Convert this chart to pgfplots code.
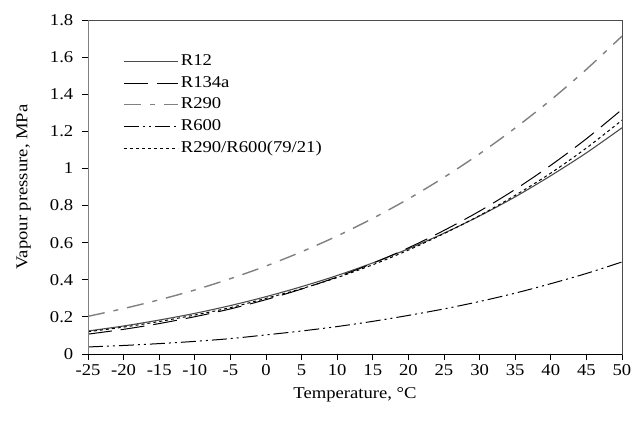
\documentclass[border=0pt]{standalone}
\usepackage{pgfplots}
\pgfplotsset{compat=1.18}
\usepackage{fontspec}
\setmainfont[FakeStretch=1.13]{Liberation Serif}
\begin{document}
\fontsize{16.5}{19}\selectfont
\begin{tikzpicture}[x=1pt,y=1pt]
\path[use as bounding box] (0,0) rectangle (633,421);
\begin{axis}[
  at={(88pt,67pt)}, anchor=south west,
  scale only axis, width=534pt, height=334pt,
  xmin=-25, xmax=50, ymin=0, ymax=1.8,
  xtick={-25,-20,...,50},
  ytick={0,0.2,...,1.8},
  /pgf/number format/assume math mode=true,
  tick align=outside, major tick length=6pt,
  xtick pos=bottom, ytick pos=left,
  tick style={black, line width=0.8pt},
  axis line style={draw=gray!60!black, line width=0.8pt},
  ticklabel style={font=\fontsize{16.5}{19}\selectfont},
  xticklabel style={yshift=1pt},
  yticklabel style={xshift=-3pt},
  xlabel={Temperature, °C},
  ylabel={Vapour pressure, MPa},
  label style={font=\fontsize{16.5}{19}\selectfont},
  xlabel style={yshift=0pt},
  ylabel style={yshift=8pt},
  legend style={draw=none, fill=none, at={(0.066,0.90)}, anchor=north west,
    font=\fontsize{16.5}{19}\selectfont, row sep=6.3pt, inner sep=0pt,
    nodes={inner xsep=2pt, inner ysep=1pt}},
  legend cell align=left,
  legend image code/.code={\draw[#1] (0pt,0pt) -- (54pt,0pt);},
]
\addplot[black!70, line width=1.1pt, smooth] coordinates {
(-25,0.124) (-20,0.151) (-15,0.183) (-10,0.219) (-5,0.261) (0,0.309) (5,0.363) (10,0.423)
(15,0.491) (20,0.567) (25,0.651) (30,0.744) (35,0.847) (40,0.961) (45,1.084) (50,1.219)};
\addlegendentry{R12}
\addplot[black, line width=1pt, smooth, dash pattern=on 24pt off 9pt] coordinates {
(-25,0.107) (-20,0.133) (-15,0.164) (-10,0.201) (-5,0.243) (0,0.293) (5,0.350) (10,0.415)
(15,0.489) (20,0.572) (25,0.666) (30,0.770) (35,0.887) (40,1.017) (45,1.160) (50,1.318)};
\addlegendentry{R134a}
\addplot[gray, line width=1.4pt, smooth, dash pattern=on 17pt off 9pt on 5pt off 9pt] coordinates {
(-25,0.203) (-20,0.245) (-15,0.292) (-10,0.345) (-5,0.406) (0,0.474) (5,0.551) (10,0.636)
(15,0.731) (20,0.836) (25,0.952) (30,1.079) (35,1.218) (40,1.369) (45,1.534) (50,1.713)};
\addlegendentry{R290}
\addplot[black, line width=1pt, smooth, dash pattern=on 15pt off 4pt on 2pt off 4pt on 2pt off 4pt] coordinates {
(-25,0.038) (-20,0.046) (-15,0.056) (-10,0.068) (-5,0.083) (0,0.103) (5,0.124) (10,0.148)
(15,0.176) (20,0.208) (25,0.243) (30,0.283) (35,0.328) (40,0.379) (45,0.434) (50,0.496)};
\addlegendentry{R600}
\addplot[black, line width=1pt, smooth, dash pattern=on 3pt off 3pt] coordinates {
(-25,0.120) (-20,0.145) (-15,0.175) (-10,0.210) (-5,0.250) (0,0.300) (5,0.352) (10,0.412)
(15,0.481) (20,0.560) (25,0.649) (30,0.746) (35,0.855) (40,0.975) (45,1.110) (50,1.260)};
\addlegendentry{R290/R600(79/21)}
\draw[gray, line width=2pt] (rel axis cs:0,0) -- (rel axis cs:0,1);
\draw[black, line width=1pt] (rel axis cs:0,0) -- (rel axis cs:1,0);
\end{axis}
\end{tikzpicture}
\end{document}
